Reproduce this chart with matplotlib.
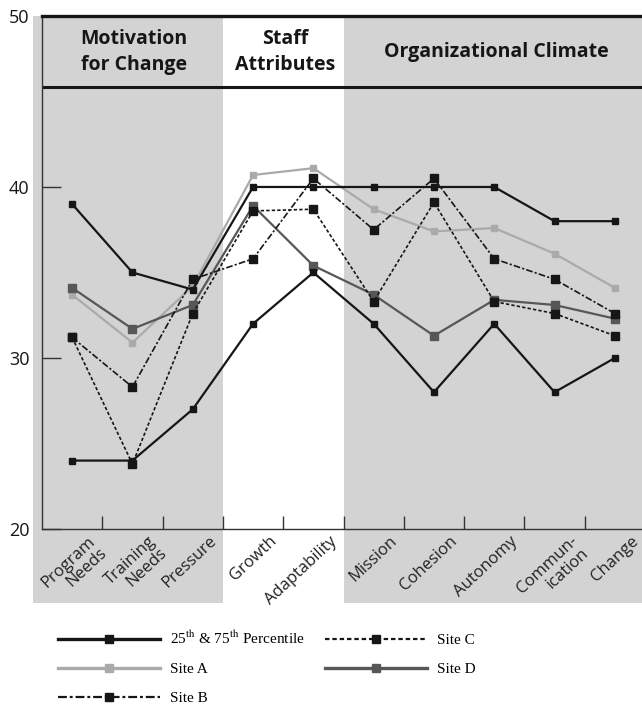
import matplotlib
matplotlib.use('Agg')
import matplotlib.pyplot as plt
from matplotlib.patches import Rectangle
from matplotlib.lines import Line2D

# Categories along the x axis
categories = ['Program\nNeeds', 'Training\nNeeds', 'Pressure', 'Growth', 'Adaptability',
              'Mission', 'Cohesion', 'Autonomy', 'Commun-\nication', 'Change']

# Series values
pct_75 = [39.0, 35.0, 34.0, 40.0, 40.0, 40.0, 40.0, 40.0, 38.0, 38.0]
pct_25 = [24.0, 24.0, 27.0, 32.0, 35.0, 32.0, 28.0, 32.0, 28.0, 30.0]
site_a = [33.7, 30.9, 34.2, 40.7, 41.1, 38.7, 37.4, 37.6, 36.1, 34.1]
site_b = [31.2, 28.3, 34.6, 35.8, 40.5, 37.5, 40.5, 35.8, 34.6, 32.6]
site_c = [31.2, 23.8, 32.6, 38.6, 38.7, 33.3, 39.1, 33.3, 32.6, 31.3]
site_d = [34.1, 31.7, 33.1, 38.9, 35.4, 33.7, 31.3, 33.4, 33.1, 32.3]

# Header groups: (label, first index, last index)
groups = [('Motivation\nfor Change', 0, 2), ('Staff\nAttributes', 3, 4),
          ('Organizational Climate', 5, 9)]
shaded = [True, False, True]

bg_gray = '#d3d3d3'
black = '#161616'
light = '#aaaaaa'
dark = '#575757'

plt.rcParams['font.family'] = ['Open Sans', 'DejaVu Sans']
plt.rcParams['mathtext.fontset'] = 'stix'

fig = plt.figure(figsize=(6.42, 7.07), dpi=100)
ax = fig.add_axes([0.0654, 0.2518, 0.9393, 0.7256])
ax.set_facecolor('none')
ax.set_xlim(-0.5, 9.5)
ax.set_ylim(20, 50)

# Gray group backgrounds (reach below the axis to cover the tick labels)
for (name, i0, i1), sh in zip(groups, shaded):
    if sh:
        left = i0 - 0.5 if i0 > 0 else -0.65
        ax.add_patch(Rectangle((left, 15.65), i1 + 0.5 - left + (0.2 if i1 == 9 else 0), 50 - 15.65,
                               facecolor=bg_gray, edgecolor='none', zorder=0, clip_on=False))
    ax.text((i0 + i1) / 2 + 0.03, 47.9, name, ha='center', va='center', fontsize=14,
            fontweight='bold', color=black, linespacing=1.35, zorder=3)

# Header divider line
ax.axhline(45.85, color=black, lw=2.2, zorder=2)

x = list(range(len(categories)))
ax.plot(x, pct_75, color=black, lw=1.6, marker='s', ms=5, zorder=4)
ax.plot(x, pct_25, color=black, lw=1.6, marker='s', ms=5, zorder=4)
ax.plot(x, site_a, color=light, lw=1.6, marker='s', ms=5, zorder=3)
ax.plot(x, site_d, color=dark, lw=1.6, marker='s', ms=5.5, zorder=3)
ax.plot(x, site_b, color=black, lw=1.2, ls=(0, (4, 1.3, 1.3, 1.3)), marker='s', ms=5.5, zorder=4)
ax.plot(x, site_c, color=black, lw=1.2, ls=(0, (2, 1.3)), marker='s', ms=5.5, zorder=4)

# Spines and ticks
ax.spines['right'].set_visible(False)
ax.spines['top'].set_linewidth(2.4)
ax.spines['top'].set_color(black)
for s in ['left', 'bottom']:
    ax.spines[s].set_linewidth(1.0)
    ax.spines[s].set_color('#333333')

ax.set_yticks([20, 30, 40, 50])
ax.tick_params(axis='y', direction='in', length=14, width=1, color='#333333',
               labelsize=13, pad=9, labelcolor=black)

ax.set_xticks([])
ax.set_xticks([i + 0.5 for i in range(9)], minor=True)
ax.tick_params(axis='x', which='minor', direction='in', length=9.5, width=1, color='#333333')

for i, lab in enumerate(categories):
    ax.text(i + 0.26, 19.75, lab, rotation=43, ha='right', va='top', rotation_mode='anchor',
            multialignment='right', fontsize=12, color='#222222', linespacing=1.0,
            clip_on=False)

# Legend
handles = [
    Line2D([], [], color=black, lw=2.4, marker='s', ms=6),
    Line2D([], [], color=light, lw=2.4, marker='s', ms=6),
    Line2D([], [], color=black, lw=1.6, ls=(0, (4, 1.3, 1.3, 1.3)), marker='s', ms=6),
    Line2D([], [], color=black, lw=1.6, ls=(0, (2, 1.3)), marker='s', ms=6),
    Line2D([], [], color=dark, lw=2.4, marker='s', ms=6),
]
labels = [r'25$^{\mathrm{th}}$ & 75$^{\mathrm{th}}$ Percentile', 'Site A', 'Site B', 'Site C', 'Site D']
fig.legend(handles, labels, ncol=2, loc='upper left', bbox_to_anchor=(0.0903, 0.109),
           frameon=False, borderpad=0, borderaxespad=0, handlelength=6.7, handletextpad=0.65,
           columnspacing=1.3, labelspacing=1.0, numpoints=1,
           prop={'family': 'Liberation Serif', 'size': 11})

fig.savefig('out.png', dpi=100)
